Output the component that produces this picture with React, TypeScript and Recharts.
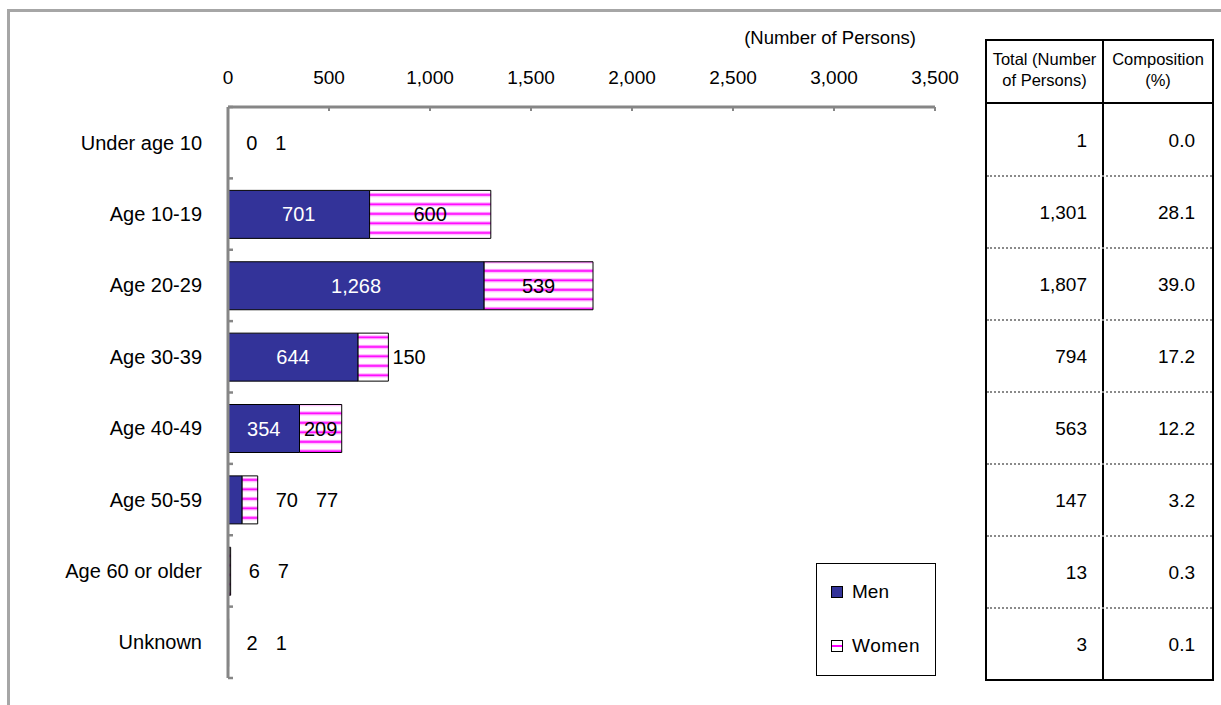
import React from 'react';
import { BarChart, Bar, XAxis, YAxis, LabelList, Legend } from 'recharts';

const categories = ['Under age 10', 'Age 10-19', 'Age 20-29', 'Age 30-39', 'Age 40-49', 'Age 50-59', 'Age 60 or older', 'Unknown'];
const menValues = [0, 701, 1268, 644, 354, 70, 6, 2];
const womenValues = [1, 600, 539, 150, 209, 77, 7, 1];
const totalValues = [1, 1301, 1807, 794, 563, 147, 13, 3];
const compositionValues = [0.0, 28.1, 39.0, 17.2, 12.2, 3.2, 0.3, 0.1];
const xTicks = [0, 500, 1000, 1500, 2000, 2500, 3000, 3500];
const seriesNames = ['Men', 'Women'];
const tableHeaders = [['Total (Number', 'of Persons)'], ['Composition', '(%)']];
const unitLabel = '(Number of Persons)';

const data = categories.map((c, i) => ({ category: c, men: menValues[i], women: womenValues[i] }));

const FONT = "'Liberation Sans', Arial, Helvetica, sans-serif";
const AXIS_GRAY = '#868686';
const MEN_COLOR = '#333399';
const LABEL_FS = 20;

const fmt = (v: number) => v.toLocaleString('en-US');
const textW = (s: string, fs: number) =>
  s.split('').reduce((a, c) => a + (c === ',' || c === '.' ? 0.278 : 0.556), 0) * fs;

const geom = (props: any) => {
  const vb = props.viewBox || {};
  return {
    x: Number(props.x ?? vb.x ?? 0),
    y: Number(props.y ?? vb.y ?? 0),
    width: Number(props.width ?? vb.width ?? 0),
    height: Number(props.height ?? vb.height ?? 0),
  };
};

const rowOf = (props: any) => {
  const i = categories.indexOf(String(props.value));
  return i >= 0 ? i : props.index;
};

const menFitsPx = (menPx: number, men: number) => menPx >= textW(fmt(men), LABEL_FS) + 8;

// label inside the men segment (only drawn when it fits)
const MenLabel = (props: any) => {
  const i = rowOf(props);
  const { x, y, width, height } = geom(props);
  const men = menValues[i];
  if (!menFitsPx(width, men)) return null;
  return (
    <text x={x + width / 2} y={y + height / 2} textAnchor="middle" dominantBaseline="central" fill="#fff" fontSize={LABEL_FS} fontFamily={FONT}>
      {fmt(men)}
    </text>
  );
};

// women label, plus the men label placed outside when the men segment is too narrow
const WomenLabel = (props: any) => {
  const i = rowOf(props);
  const { x, y, width, height } = geom(props);
  const men = menValues[i];
  const women = womenValues[i];
  const s = fmt(women);
  const tw = textW(s, LABEL_FS);
  const cy = y + height / 2;
  const menPx = women > 0 ? (width * men) / women : 0;
  const menS = fmt(men);
  const menFits = menFitsPx(menPx, men);
  const end = x + width;
  const womenFits = width >= tw + 4;
  const out: React.ReactNode[] = [];
  if (!menFits) {
    out.push(
      <text key="m" x={end + 18} y={cy} textAnchor="start" dominantBaseline="central" fill="#000" fontSize={LABEL_FS} fontFamily={FONT}>
        {menS}
      </text>
    );
  }
  if (womenFits) {
    out.push(
      <text key="w" x={x + width / 2} y={cy} textAnchor="middle" dominantBaseline="central" fill="#000" fontSize={LABEL_FS} fontFamily={FONT}>
        {s}
      </text>
    );
  } else {
    const startX = menFits ? end + 4 : end + 18 + textW(menS, LABEL_FS) + 18;
    out.push(
      <text key="w" x={startX} y={cy} textAnchor="start" dominantBaseline="central" fill="#000" fontSize={LABEL_FS} fontFamily={FONT}>
        {s}
      </text>
    );
  }
  return <g>{out}</g>;
};

const XTick = (props: any) => {
  const { x, y, payload } = props;
  return (
    <g>
      <line x1={x} x2={x} y1={y} y2={y + 4} stroke={AXIS_GRAY} strokeWidth={2} />
      <text x={x} y={y - 30} textAnchor="middle" dominantBaseline="central" fontSize={19} fontFamily={FONT} fill="#000">
        {fmt(payload.value)}
      </text>
    </g>
  );
};

const YTick = (props: any) => {
  const { x, y, payload, index } = props;
  const half = payload && typeof payload.offset === 'number' && payload.offset > 0 ? payload.offset : 35.7;
  const isLast = index === categories.length - 1;
  return (
    <g>
      <line x1={x} x2={x + 5} y1={y - half} y2={y - half} stroke={AXIS_GRAY} strokeWidth={2.5} />
      {isLast && <line x1={x} x2={x + 5} y1={y + half} y2={y + half} stroke={AXIS_GRAY} strokeWidth={2.5} />}
      <text x={x - 26} y={y} textAnchor="end" dominantBaseline="central" fontSize={20} fontFamily={FONT} fill="#000">
        {payload.value}
      </text>
    </g>
  );
};

const LegendBox = () => {
  const itemText: React.CSSProperties = {
    position: 'absolute',
    left: 35,
    fontSize: 19,
    fontFamily: FONT,
    lineHeight: '20px',
    color: '#000',
  };
  return (
    <div
      style={{
        position: 'relative',
        width: 120,
        height: 113,
        border: '1.5px solid #000',
        boxSizing: 'border-box',
        background: '#fff',
      }}
    >
      <div
        style={{
          position: 'absolute',
          left: 14,
          top: 22,
          width: 12,
          height: 12,
          background: MEN_COLOR,
          border: '1px solid #000',
          boxSizing: 'border-box',
        }}
      />
      <div style={{ ...itemText, top: 18 }}>{seriesNames[0]}</div>
      <svg style={{ position: 'absolute', left: 14, top: 76 }} width={12} height={12}>
        <rect x={0.5} y={0.5} width={11} height={11} fill="#fff" stroke="#000" strokeWidth={1} />
        <rect x={1} y={5} width={10} height={2} fill="#ff00ff" />
      </svg>
      <div style={{ ...itemText, top: 72, letterSpacing: '0.6px' }}>{seriesNames[1]}</div>
    </div>
  );
};

export default function App() {
  const rowTop = 104;
  const rowH = (680 - 104) / categories.length;
  return (
    <div
      style={{
        position: 'absolute',
        left: 0,
        top: 0,
        width: 1221,
        height: 705,
        overflow: 'hidden',
        background: '#fff',
        fontFamily: FONT,
      }}
    >
      {/* outer frame */}
      <div
        style={{
          position: 'absolute',
          left: 7,
          top: 9,
          width: 1400,
          height: 900,
          border: '3px solid #a6a6a6',
          boxSizing: 'border-box',
        }}
      />

      {/* unit label */}
      <div
        style={{
          position: 'absolute',
          left: 680,
          width: 300,
          top: 27,
          textAlign: 'center',
          fontSize: 18.5,
          lineHeight: '22px',
          color: '#000',
        }}
      >
        {unitLabel}
      </div>

      <div style={{ position: 'absolute', left: 0, top: 0 }}>
        <BarChart
          layout="vertical"
          width={960}
          height={705}
          data={data}
          margin={{ top: 0, right: 25, bottom: 27, left: 0 }}
        >
          <defs>
            <pattern id="womenStripes" patternUnits="userSpaceOnUse" width={10} height={9.5}>
              <rect x={0} y={0} width={10} height={9.5} fill="#ffffff" />
              <rect x={0} y={3} width={10} height={1} fill="#ff99ff" />
              <rect x={0} y={4} width={10} height={2} fill="#ff00ff" />
              <rect x={0} y={6} width={10} height={1} fill="#ffb3ff" />
            </pattern>
          </defs>
          <XAxis
            type="number"
            orientation="top"
            domain={[0, 3500]}
            ticks={xTicks}
            interval={0}
            height={107}
            tickSize={0}
            tickMargin={0}
            tickLine={false}
            axisLine={{ stroke: AXIS_GRAY, strokeWidth: 3 }}
            tick={<XTick />}
          />
          <YAxis
            type="category"
            dataKey="category"
            width={228}
            interval={0}
            tickSize={0}
            tickMargin={0}
            tickLine={false}
            axisLine={{ stroke: AXIS_GRAY, strokeWidth: 3 }}
            tick={<YTick />}
          />
          <Legend
            layout="vertical"
            align="center"
            verticalAlign="middle"
            wrapperStyle={{ left: 816, top: 563, width: 120, height: 113 }}
            content={<LegendBox />}
          />
          <Bar
            dataKey="men"
            name={seriesNames[0]}
            stackId="a"
            fill={MEN_COLOR}
            stroke="#000"
            strokeWidth={1}
            barSize={48}
            isAnimationActive={false}
          >
            <LabelList dataKey={(d: any) => d.category} content={MenLabel} />
          </Bar>
          <Bar
            dataKey="women"
            name={seriesNames[1]}
            stackId="a"
            fill="url(#womenStripes)"
            stroke="#000"
            strokeWidth={1}
            barSize={48}
            isAnimationActive={false}
          >
            <LabelList dataKey={(d: any) => d.category} content={WomenLabel} />
          </Bar>
        </BarChart>
      </div>

      {/* table */}
      <div
        style={{
          position: 'absolute',
          left: 985,
          top: 39,
          width: 229,
          height: 642,
          border: '2px solid #000',
          boxSizing: 'border-box',
        }}
      />
      <div style={{ position: 'absolute', left: 1102, top: 39, width: 2, height: 642, background: '#000' }} />
      <div style={{ position: 'absolute', left: 985, top: 102, width: 229, height: 2, background: '#000' }} />
      {tableHeaders.map((lines, ci) => (
        <div
          key={'h' + ci}
          style={{
            position: 'absolute',
            left: ci === 0 ? 987 : 1104,
            width: ci === 0 ? 115 : 108,
            top: 49,
            textAlign: 'center',
            fontSize: 16.5,
            lineHeight: '21px',
            color: '#000',
          }}
        >
          {lines.map((l, k) => (
            <div key={k} style={{ whiteSpace: 'nowrap' }}>{l}</div>
          ))}
        </div>
      ))}
      {categories.map((c, i) => {
        const top = rowTop + i * rowH;
        return (
          <React.Fragment key={c}>
            {i > 0 && (
              <div
                style={{
                  position: 'absolute',
                  left: 987,
                  top: top - 1,
                  width: 225,
                  height: 0,
                  borderTop: '2px dotted #8a8a8a',
                }}
              />
            )}
            <div
              style={{
                position: 'absolute',
                left: 987,
                width: 100,
                top: top + rowH / 2 - 11 + 1,
                textAlign: 'right',
                fontSize: 19,
                lineHeight: '22px',
                color: '#000',
              }}
            >
              {fmt(totalValues[i])}
            </div>
            <div
              style={{
                position: 'absolute',
                left: 1104,
                width: 91,
                top: top + rowH / 2 - 11 + 1,
                textAlign: 'right',
                fontSize: 19,
                lineHeight: '22px',
                color: '#000',
              }}
            >
              {compositionValues[i].toFixed(1)}
            </div>
          </React.Fragment>
        );
      })}
    </div>
  );
}
